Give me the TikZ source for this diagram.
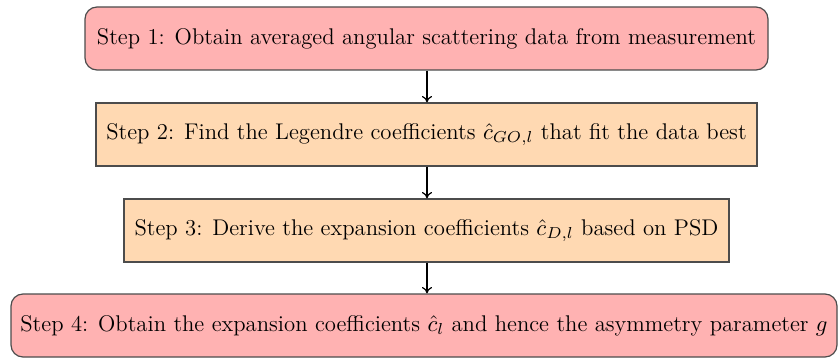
\RequirePackage{fix-cm}
\documentclass[tikz,border=0pt]{standalone}
\usepackage{amsmath}
\usetikzlibrary{arrows.meta}
\begin{document}
\begin{tikzpicture}[x=0.5pt,y=-0.5pt,
  every node/.style={font=\fontsize{11.35}{13.6}\selectfont},
  stepround/.style={draw=black!70, fill=red!30, rounded corners=6pt, minimum height=31.5pt, inner sep=0pt, line width=0.6pt},
  stepsquare/.style={draw=black!70, fill=orange!30, minimum height=31.5pt, inner sep=0pt, line width=0.6pt},
  conn/.style={-{To[length=3.2pt,width=5pt]}, line width=0.6pt}]
\useasboundingbox (0,0) rectangle (840,358);
\node[stepround, minimum width=341.5pt] (s1) at (426.5,38.5) {Step 1: Obtain averaged angular scattering data from measurement};
\node[stepsquare, minimum width=330.5pt] (s2) at (426.5,134.5) {Step 2: Find the Legendre coefficients $\hat{c}_{GO,l}$ that fit the data best};
\node[stepsquare, minimum width=302.5pt] (s3) at (426.5,230.5) {Step 3: Derive the expansion coefficients $\hat{c}_{D,l}$ based on PSD};
\node[stepround, minimum width=413pt] (s4) at (424,325.5) {Step 4: Obtain the expansion coefficients $\hat{c}_l$ and hence the asymmetry parameter $g$};
\draw[conn] (s1.south -| 427,0) -- (s2.north -| 427,0);
\draw[conn] (s2.south -| 427,0) -- (s3.north -| 427,0);
\draw[conn] (s3.south -| 427,0) -- (s4.north -| 427,0);
\end{tikzpicture}
\end{document}
